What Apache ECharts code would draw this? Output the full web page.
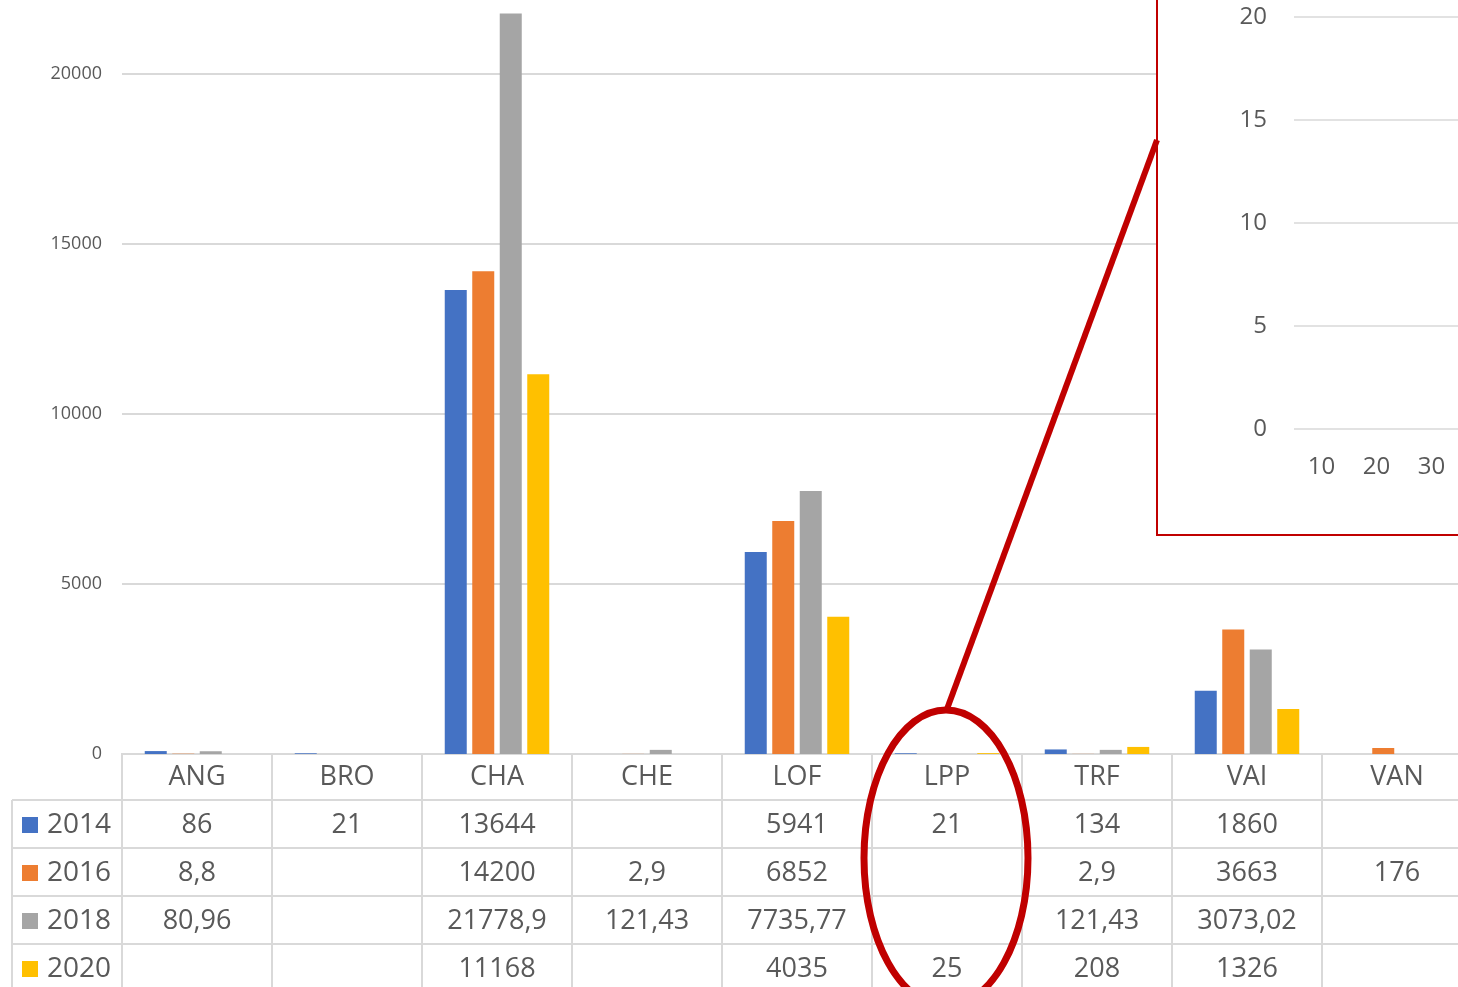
<!DOCTYPE html>
<html>
<head>
<meta charset="utf-8">
<script src="https://cdn.jsdelivr.net/npm/echarts@6/dist/echarts.min.js"></script>
<style>
  html, body { margin: 0; padding: 0; background: #fff; }
  #main { width: 1458px; height: 987px; }
</style>
</head>
<body>
<div id="main"></div>
<script>
// données du tableau (valeurs vides = null)
var categories = ['ANG', 'BRO', 'CHA', 'CHE', 'LOF', 'LPP', 'TRF', 'VAI', 'VAN']
var years = ['2014', '2016', '2018', '2020']
var v2014 = [86, 21, 13644, null, 5941, 21, 134, 1860, null]
var v2016 = [8.8, null, 14200, 2.9, 6852, null, 2.9, 3663, 176]
var v2018 = [80.96, null, 21778.9, 121.43, 7735.77, null, 121.43, 3073.02, null]
var v2020 = [null, null, 11168, null, 4035, 25, 208, 1326, null]
var colors = ['#4472C4', '#ED7D31', '#A5A5A5', '#FFC000']
var yTicks = [0, 5000, 10000, 15000, 20000, 25000]
var insetXLabels = ['10', '20', '30']
var insetYTicks = [0, 5, 10, 15, 20]

var rows = [v2014, v2016, v2018, v2020]
var textColor = '#595959'
var lineColor = '#d9d9d9'
var font = '"Open Sans", "Liberation Sans", sans-serif'

var chart = echarts.init(document.getElementById('main'))

var option = {
  animation: false,
  color: colors,
  grid: [
    { left: 122, width: 1350, bottom: 233, height: 850, containLabel: false, outerBoundsMode: 'none' },
    { left: 1294, width: 165, top: 17, height: 412, containLabel: false, outerBoundsMode: 'none' }
  ],
  xAxis: [
    {
      type: 'category',
      gridIndex: 0,
      data: categories,
      z: 0,
      axisTick: { show: false },
      axisLine: { lineStyle: { color: lineColor, width: 2 } },
      axisLabel: {
        color: textColor,
        fontFamily: font,
        fontSize: 27,
        lineHeight: 27,
        margin: 10
      }
    },
    {
      type: 'category',
      gridIndex: 1,
      data: insetXLabels,
      z: 10,
      axisTick: { show: false },
      axisLine: { show: false },
      axisLabel: {
        color: textColor,
        fontFamily: font,
        fontSize: 24,
        margin: 26
      }
    }
  ],
  yAxis: [
    {
      type: 'value',
      gridIndex: 0,
      min: yTicks[0],
      max: yTicks[yTicks.length - 1],
      interval: 5000,
      z: 0,
      axisLine: { show: false },
      axisTick: { show: false },
      axisLabel: {
        color: textColor, fontFamily: font, fontSize: 18, margin: 20,
        formatter: function (v) { return String(v) }
      },
      splitLine: { lineStyle: { color: lineColor, width: 2 } }
    },
    {
      type: 'value',
      gridIndex: 1,
      min: insetYTicks[0],
      max: insetYTicks[insetYTicks.length - 1],
      interval: 5,
      z: 10,
      axisLine: { show: false },
      axisTick: { show: false },
      axisLabel: { color: textColor, fontFamily: font, fontSize: 24, margin: 27 },
      splitLine: { lineStyle: { color: lineColor, width: 1.5 } }
    }
  ],
  series: years.map(function (y, i) {
    return {
      name: y,
      type: 'bar',
      xAxisIndex: 0,
      yAxisIndex: 0,
      barWidth: 22,
      barGap: '25%',
      z: 2,
      data: rows[i]
    }
  }).concat([{
    // série vide pour faire exister la loupe
    type: 'bar',
    xAxisIndex: 1,
    yAxisIndex: 1,
    data: [null, null, null]
  }])
}

chart.setOption(option)

// tableau de données sous l'axe + annotations rouges
function fmt (v) {
  return v === null ? '' : String(v).replace('.', ',')
}

var axisY = 753
var rowH = 48
var colW = 150
var colLeft = 122
var g = []

// lignes horizontales
for (var r = 1; r <= 4; r++) {
  g.push({
    type: 'line', z: 1,
    shape: { x1: 12, y1: axisY + 47 + (r - 1) * rowH, x2: 1480, y2: axisY + 47 + (r - 1) * rowH },
    style: { stroke: lineColor, lineWidth: 2 }
  })
}
// lignes verticales
g.push({ type: 'line', z: 1, shape: { x1: 12, y1: 800, x2: 12, y2: 990 }, style: { stroke: lineColor, lineWidth: 2 } })
for (var c = 0; c <= categories.length; c++) {
  var x = colLeft + c * colW
  g.push({ type: 'line', z: 1, shape: { x1: x, y1: axisY, x2: x, y2: 990 }, style: { stroke: lineColor, lineWidth: 2 } })
}
// légende + valeurs
years.forEach(function (y, i) {
  var cy = 825 + i * rowH
  g.push({ type: 'rect', z: 3, shape: { x: 22, y: cy - 8, width: 16, height: 16 }, style: { fill: colors[i] } })
  g.push({
    type: 'text', z: 3, x: 47, y: cy,
    style: { text: y, fill: textColor, font: '28px ' + font, align: 'left', verticalAlign: 'middle' }
  })
  rows[i].forEach(function (v, j) {
    if (v === null) return
    var px = chart.convertToPixel({ xAxisIndex: 0 }, categories[j])
    g.push({
      type: 'text', z: 3, x: px, y: cy,
      style: { text: fmt(v), fill: textColor, font: '27px ' + font, align: 'center', verticalAlign: 'middle' }
    })
  })
})

// encadré loupe
g.push({
  type: 'rect', z: 5,
  shape: { x: 1157, y: -10, width: 330, height: 545 },
  style: { fill: '#fff', stroke: '#C00000', lineWidth: 2 }
})
// trait et ellipse
g.push({
  type: 'line', z: 20,
  shape: { x1: 947, y1: 709, x2: 1157, y2: 140 },
  style: { stroke: '#C00000', lineWidth: 6 }
})
g.push({
  type: 'ellipse', z: 20,
  shape: { cx: 946, cy: 858, rx: 82, ry: 148 },
  style: { fill: null, stroke: '#C00000', lineWidth: 7 }
})

chart.setOption({ graphic: g })
</script>
</body>
</html>
